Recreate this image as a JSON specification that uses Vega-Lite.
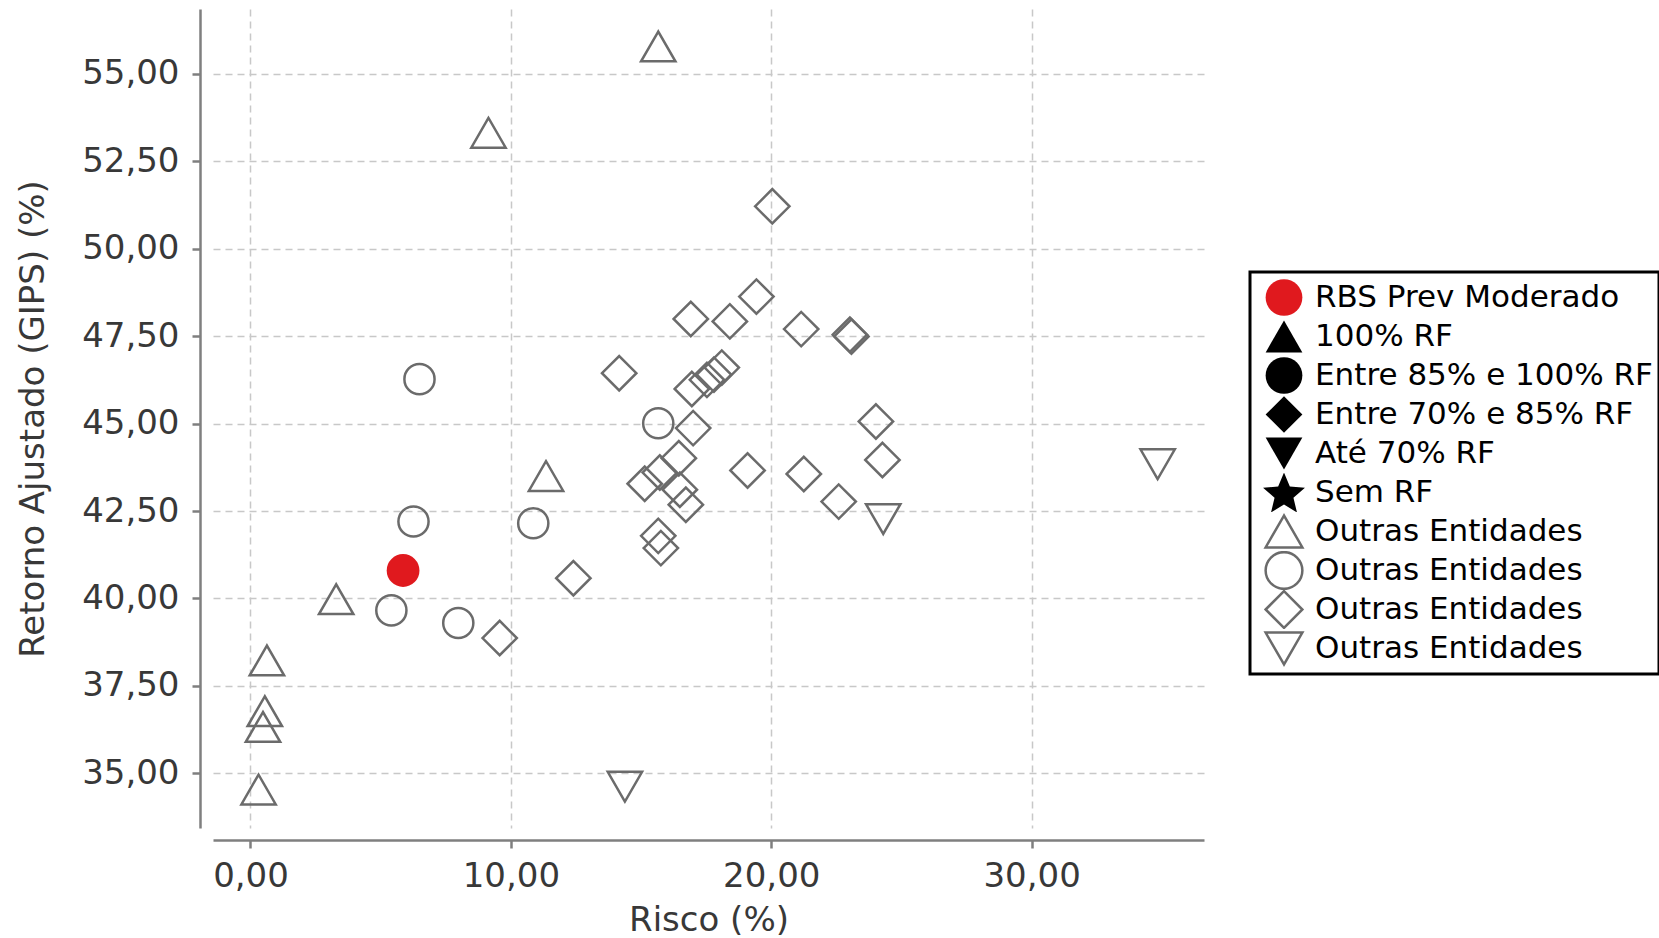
{
  "$schema": "https://vega.github.io/schema/vega-lite/v6.json",
  "width": 991,
  "height": 819,
  "autosize": {"type": "none"},
  "padding": {"left": 213, "top": 9, "right": 455, "bottom": 110},
  "config": {
    "view": {"stroke": null},
    "font": "DejaVu Sans",
    "legend": {"strokeWidth": 3}
  },
  "data": {
    "values": [
      {"risco": 5.86, "retorno": 40.80, "grupo": "RBS Prev Moderado"},
      {"risco": 15.66, "retorno": 55.78, "grupo": "Outras Entidades – 100% RF"},
      {"risco": 9.14, "retorno": 53.31, "grupo": "Outras Entidades – 100% RF"},
      {"risco": 11.35, "retorno": 43.50, "grupo": "Outras Entidades – 100% RF"},
      {"risco": 3.29, "retorno": 39.98, "grupo": "Outras Entidades – 100% RF"},
      {"risco": 0.63, "retorno": 38.23, "grupo": "Outras Entidades – 100% RF"},
      {"risco": 0.55, "retorno": 36.78, "grupo": "Outras Entidades – 100% RF"},
      {"risco": 0.48, "retorno": 36.33, "grupo": "Outras Entidades – 100% RF"},
      {"risco": 0.31, "retorno": 34.54, "grupo": "Outras Entidades – 100% RF"},
      {"risco": 6.49, "retorno": 46.27, "grupo": "Outras Entidades – Entre 85% e 100% RF"},
      {"risco": 15.66, "retorno": 45.01, "grupo": "Outras Entidades – Entre 85% e 100% RF"},
      {"risco": 6.26, "retorno": 42.20, "grupo": "Outras Entidades – Entre 85% e 100% RF"},
      {"risco": 10.86, "retorno": 42.15, "grupo": "Outras Entidades – Entre 85% e 100% RF"},
      {"risco": 5.41, "retorno": 39.66, "grupo": "Outras Entidades – Entre 85% e 100% RF"},
      {"risco": 7.98, "retorno": 39.30, "grupo": "Outras Entidades – Entre 85% e 100% RF"},
      {"risco": 20.04, "retorno": 51.21, "grupo": "Outras Entidades – Entre 70% e 85% RF"},
      {"risco": 19.43, "retorno": 48.63, "grupo": "Outras Entidades – Entre 70% e 85% RF"},
      {"risco": 16.91, "retorno": 47.99, "grupo": "Outras Entidades – Entre 70% e 85% RF"},
      {"risco": 18.41, "retorno": 47.92, "grupo": "Outras Entidades – Entre 70% e 85% RF"},
      {"risco": 21.15, "retorno": 47.70, "grupo": "Outras Entidades – Entre 70% e 85% RF"},
      {"risco": 23.02, "retorno": 47.54, "grupo": "Outras Entidades – Entre 70% e 85% RF"},
      {"risco": 23.08, "retorno": 47.49, "grupo": "Outras Entidades – Entre 70% e 85% RF"},
      {"risco": 14.16, "retorno": 46.44, "grupo": "Outras Entidades – Entre 70% e 85% RF"},
      {"risco": 18.10, "retorno": 46.60, "grupo": "Outras Entidades – Entre 70% e 85% RF"},
      {"risco": 17.80, "retorno": 46.40, "grupo": "Outras Entidades – Entre 70% e 85% RF"},
      {"risco": 17.53, "retorno": 46.25, "grupo": "Outras Entidades – Entre 70% e 85% RF"},
      {"risco": 16.95, "retorno": 45.99, "grupo": "Outras Entidades – Entre 70% e 85% RF"},
      {"risco": 24.02, "retorno": 45.06, "grupo": "Outras Entidades – Entre 70% e 85% RF"},
      {"risco": 17.00, "retorno": 44.87, "grupo": "Outras Entidades – Entre 70% e 85% RF"},
      {"risco": 24.27, "retorno": 43.96, "grupo": "Outras Entidades – Entre 70% e 85% RF"},
      {"risco": 16.45, "retorno": 44.01, "grupo": "Outras Entidades – Entre 70% e 85% RF"},
      {"risco": 19.09, "retorno": 43.66, "grupo": "Outras Entidades – Entre 70% e 85% RF"},
      {"risco": 21.25, "retorno": 43.56, "grupo": "Outras Entidades – Entre 70% e 85% RF"},
      {"risco": 15.72, "retorno": 43.60, "grupo": "Outras Entidades – Entre 70% e 85% RF"},
      {"risco": 15.14, "retorno": 43.28, "grupo": "Outras Entidades – Entre 70% e 85% RF"},
      {"risco": 16.49, "retorno": 43.11, "grupo": "Outras Entidades – Entre 70% e 85% RF"},
      {"risco": 16.72, "retorno": 42.68, "grupo": "Outras Entidades – Entre 70% e 85% RF"},
      {"risco": 22.59, "retorno": 42.77, "grupo": "Outras Entidades – Entre 70% e 85% RF"},
      {"risco": 15.66, "retorno": 41.79, "grupo": "Outras Entidades – Entre 70% e 85% RF"},
      {"risco": 15.76, "retorno": 41.44, "grupo": "Outras Entidades – Entre 70% e 85% RF"},
      {"risco": 12.40, "retorno": 40.58, "grupo": "Outras Entidades – Entre 70% e 85% RF"},
      {"risco": 9.57, "retorno": 38.87, "grupo": "Outras Entidades – Entre 70% e 85% RF"},
      {"risco": 34.84, "retorno": 43.84, "grupo": "Outras Entidades – Até 70% RF"},
      {"risco": 24.30, "retorno": 42.27, "grupo": "Outras Entidades – Até 70% RF"},
      {"risco": 14.38, "retorno": 34.62, "grupo": "Outras Entidades – Até 70% RF"}
    ]
  },
  "encoding": {
    "x": {
      "field": "risco",
      "type": "quantitative",
      "scale": {"domain": [-1.44, 36.62], "nice": false, "zero": false},
      "axis": {
        "title": "Risco (%)",
        "values": [0, 10, 20, 30],
        "labelExpr": "replace(format(datum.value, '.2f'), '.', ',')",
        "offset": 12,
        "domainColor": "#7f7f7f",
        "domainWidth": 2.5,
        "tickColor": "#7f7f7f",
        "tickWidth": 2.5,
        "tickSize": 8,
        "labelFontSize": 34,
        "labelColor": "#383838",
        "labelPadding": 11,
        "labelFlush": false,
        "gridColor": "#c8c8c8",
        "gridDash": [7, 5],
        "gridWidth": 1.5,
        "titleFontSize": 34,
        "titleFontWeight": "normal",
        "titleColor": "#383838",
        "titleBaseline": "alphabetic",
        "titleY": 90
      }
    },
    "y": {
      "field": "retorno",
      "type": "quantitative",
      "scale": {"domain": [33.44, 56.85], "nice": false, "zero": false},
      "axis": {
        "title": "Retorno Ajustado (GIPS) (%)",
        "values": [35, 37.5, 40, 42.5, 45, 47.5, 50, 52.5, 55],
        "labelExpr": "replace(format(datum.value, '.2f'), '.', ',')",
        "offset": 13,
        "domainColor": "#7f7f7f",
        "domainWidth": 2.5,
        "tickColor": "#7f7f7f",
        "tickWidth": 2.5,
        "tickSize": 8,
        "labelFontSize": 34,
        "labelColor": "#383838",
        "labelPadding": 13,
        "labelFlush": false,
        "gridColor": "#c8c8c8",
        "gridDash": [7, 5],
        "gridWidth": 1.5,
        "titleFontSize": 34,
        "titleFontWeight": "normal",
        "titleColor": "#383838",
        "titleBaseline": "alphabetic",
        "titleX": -157
      }
    },
    "shape": {
      "field": "grupo",
      "type": "nominal",
      "scale": {
        "domain": ["RBS Prev Moderado", "100% RF", "Entre 85% e 100% RF", "Entre 70% e 85% RF", "Até 70% RF", "Sem RF", "Outras Entidades – 100% RF", "Outras Entidades – Entre 85% e 100% RF", "Outras Entidades – Entre 70% e 85% RF", "Outras Entidades – Até 70% RF"],
        "range": ["circle", "triangle-up", "circle", "diamond", "triangle-down", "M0,-1.085L0.318,-0.322L1.141,-0.256L0.514,0.282L0.706,1.086L0,0.655L-0.706,1.086L-0.514,0.282L-1.141,-0.256L-0.318,-0.322Z", "triangle-up", "circle", "diamond", "triangle-down"]
      },
      "legend": {
        "title": null,
        "orient": "none",
        "legendX": 1037,
        "legendY": 263,
        "strokeColor": "#000000",
        "fillColor": "#ffffff",
        "padding": 6,
        "rowPadding": 0,
        "clipHeight": 39,
        "symbolSize": 1350,
        "symbolStrokeWidth": 2.5,
        "symbolOpacity": 1,
        "symbolOffset": 8,
        "labelOffset": 11,
        "labelFont": "DejaVu Sans",
        "labelFontSize": 31,
        "labelColor": "#000000",
        "labelLimit": 0,
        "labelExpr": "indexof(datum.label, 'Outras Entidades') === 0 ? 'Outras Entidades' : datum.label"
      }
    },
    "fill": {
      "field": "grupo",
      "type": "nominal",
      "scale": {
        "domain": ["RBS Prev Moderado", "100% RF", "Entre 85% e 100% RF", "Entre 70% e 85% RF", "Até 70% RF", "Sem RF", "Outras Entidades – 100% RF", "Outras Entidades – Entre 85% e 100% RF", "Outras Entidades – Entre 70% e 85% RF", "Outras Entidades – Até 70% RF"],
        "range": ["#e0191e", "#000000", "#000000", "#000000", "#000000", "#000000", "transparent", "transparent", "transparent", "transparent"]
      }
    },
    "stroke": {
      "field": "grupo",
      "type": "nominal",
      "scale": {
        "domain": ["RBS Prev Moderado", "100% RF", "Entre 85% e 100% RF", "Entre 70% e 85% RF", "Até 70% RF", "Sem RF", "Outras Entidades – 100% RF", "Outras Entidades – Entre 85% e 100% RF", "Outras Entidades – Entre 70% e 85% RF", "Outras Entidades – Até 70% RF"],
        "range": ["transparent", "transparent", "transparent", "transparent", "transparent", "transparent", "#6b6b6b", "#6b6b6b", "#6b6b6b", "#6b6b6b"]
      }
    }
  },
  "layer": [
    {
      "transform": [{"filter": "datum.grupo === 'Outras Entidades – Entre 85% e 100% RF'"}],
      "mark": {"type": "point", "size": 910, "strokeWidth": 2.5, "opacity": 1}
    },
    {
      "transform": [{"filter": "datum.grupo === 'RBS Prev Moderado'"}],
      "mark": {"type": "point", "size": 1075, "strokeWidth": 0, "opacity": 1}
    },
    {
      "transform": [{"filter": "datum.grupo !== 'RBS Prev Moderado' && datum.grupo !== 'Outras Entidades – Entre 85% e 100% RF'"}],
      "mark": {"type": "point", "size": 1180, "strokeWidth": 2.5, "opacity": 1}
    }
  ]
}
